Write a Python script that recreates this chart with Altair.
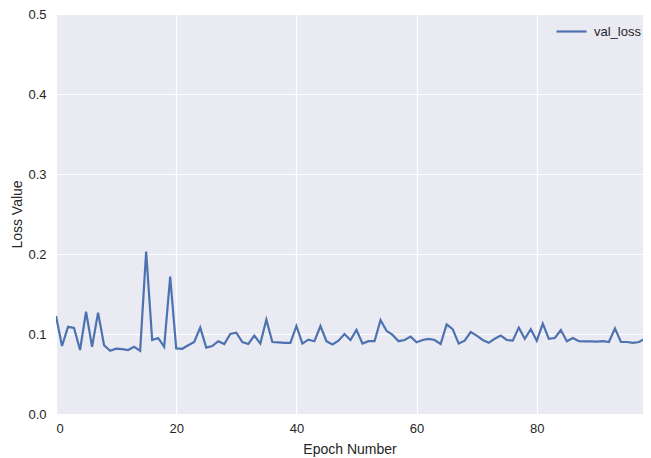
import altair as alt
import pandas as pd

epochs = list(range(100))
val_loss = [
    0.1225, 0.085, 0.109, 0.1075, 0.080, 0.128, 0.084, 0.1267, 0.086, 0.079,
    0.0817, 0.081, 0.080, 0.084, 0.079, 0.203, 0.0925, 0.095, 0.084, 0.1717,
    0.082, 0.0815, 0.086, 0.090, 0.108, 0.083, 0.085, 0.091, 0.0875, 0.100,
    0.1017, 0.090, 0.0875, 0.098, 0.088, 0.118, 0.090, 0.0895, 0.089, 0.0888,
    0.110, 0.088, 0.093, 0.091, 0.110, 0.091, 0.087, 0.0917, 0.100, 0.0925,
    0.105, 0.088, 0.091, 0.091, 0.1175, 0.104, 0.0988, 0.091, 0.0925, 0.0967,
    0.0896, 0.0925, 0.0938, 0.0925, 0.0875, 0.112, 0.106, 0.088, 0.0917, 0.1025,
    0.098, 0.0925, 0.089, 0.094, 0.098, 0.0925, 0.0917, 0.108, 0.094, 0.106,
    0.0917, 0.113, 0.094, 0.095, 0.105, 0.091, 0.095, 0.091, 0.0908, 0.0908,
    0.0904, 0.091, 0.090, 0.107, 0.090, 0.090, 0.089, 0.090, 0.094, 0.095,
]
series_name = ["val_loss"] * len(epochs)
x_ticks = [0, 20, 40, 60, 80]
y_ticks = [0.0, 0.1, 0.2, 0.3, 0.4, 0.5]

df = pd.DataFrame({"epoch": epochs, "loss": val_loss, "series": series_name})

FONT = "Liberation Sans"
TXT = "#262626"

chart = (
    alt.Chart(df)
    .mark_line(strokeWidth=2.2, clip=True)
    .encode(
        x=alt.X(
            "epoch:Q",
            scale=alt.Scale(domain=[0, 97.67], nice=False, zero=False),
            axis=alt.Axis(
                values=x_ticks,
                title="Epoch Number",
                format="d",
                labelPadding=8,
                titlePadding=7,
            ),
        ),
        y=alt.Y(
            "loss:Q",
            scale=alt.Scale(domain=[0, 0.5], nice=False),
            axis=alt.Axis(
                values=y_ticks,
                title="Loss Value",
                format=".1f",
                labelPadding=10,
                titlePadding=3,
            ),
        ),
        color=alt.Color(
            "series:N",
            scale=alt.Scale(domain=["val_loss"], range=["#4C72B0"]),
            legend=alt.Legend(
                title=None,
                orient="none",
                legendX=499,
                legendY=1,
                symbolType="stroke",
                symbolSize=900,
                symbolStrokeWidth=2.2,
                labelOffset=6,
                labelFontSize=13,
                labelFont=FONT,
                labelColor=TXT,
                padding=0,
            ),
        ),
    )
    .properties(
        width=587,
        height=400,
        autosize=alt.AutoSizeParams(type="none"),
        padding={"left": 48, "top": 6, "right": 0, "bottom": 44},
        background="white",
    )
    .configure_view(fill="#EAEAF2", stroke=None)
    .configure_axis(
        grid=True,
        gridColor="white",
        gridWidth=1.2,
        domain=False,
        ticks=False,
        labelFont=FONT,
        labelFontSize=13,
        labelColor=TXT,
        titleFont=FONT,
        titleFontSize=14,
        titleFontWeight="normal",
        titleColor=TXT,
    )
)

chart.save("out.html", embed_options={"renderer": "svg", "actions": False})
